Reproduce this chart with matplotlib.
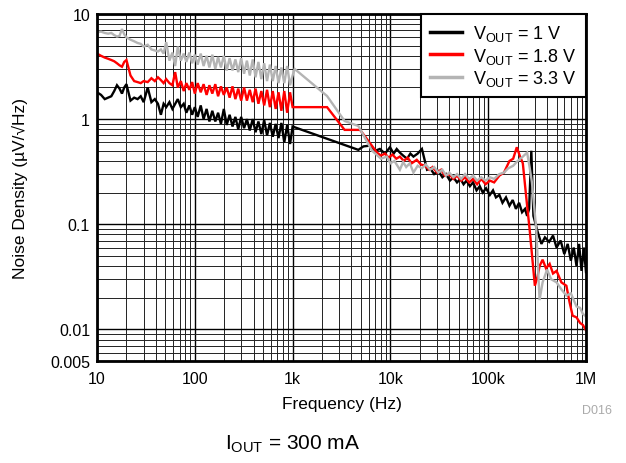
import matplotlib
matplotlib.use("Agg")
import matplotlib.pyplot as plt
from matplotlib.ticker import LogLocator, NullFormatter, FixedLocator, FixedFormatter
import numpy as np

plt.rcParams['font.family'] = ['Liberation Sans', 'DejaVu Sans']
plt.rcParams['mathtext.fontset'] = 'custom'
plt.rcParams['mathtext.rm'] = 'Liberation Sans'
plt.rcParams['mathtext.it'] = 'Liberation Sans'

# ---- data (frequency in Hz, noise density in uV/rtHz) ----
f_low = [10, 11, 12, 13, 14, 15, 16, 17, 18, 19, 20, 22, 24, 26, 28, 30, 33, 36, 39, 42,
         45, 48, 51, 55, 59, 63, 67, 72, 77, 82, 88, 94, 100, 107, 115, 123, 132, 141, 151,
         162, 173, 185, 198, 212, 227, 243, 260, 278, 298, 319, 341, 365, 391, 418, 447,
         479, 512, 548, 586, 627, 671, 718, 768, 822, 880, 942, 1000]

v1_low = [1.80, 1.70, 1.55, 1.60, 1.65, 1.85, 2.10, 1.95, 1.75, 2.00, 2.15, 1.50, 1.60, 1.55,
          1.65, 1.45, 2.00, 1.45, 1.55, 1.40, 1.10, 1.40, 1.30, 1.45, 1.25, 1.40, 1.55, 1.30,
          1.40, 1.15, 1.35, 1.10, 1.30, 1.05, 1.35, 1.00, 1.25, 0.95, 1.20, 0.95, 1.15, 0.90,
          1.25, 0.88, 1.10, 0.85, 1.05, 0.80, 1.05, 0.82, 1.00, 0.78, 1.00, 0.75, 0.95, 0.72,
          0.98, 0.70, 0.92, 0.68, 0.90, 0.66, 0.92, 0.60, 0.88, 0.58, 0.85]

v18_low = [4.20, 4.00, 3.85, 3.75, 3.65, 3.55, 3.40, 3.25, 3.15, 3.50, 3.65, 2.60, 2.30, 2.25,
           2.20, 2.30, 2.25, 2.45, 2.30, 2.50, 2.35, 2.20, 2.40, 2.20, 2.10, 2.80, 2.00, 2.30,
           1.85, 2.20, 1.90, 2.25, 1.75, 2.20, 1.80, 2.15, 1.70, 2.10, 1.75, 2.15, 1.65, 2.05,
           1.70, 2.00, 1.60, 2.05, 1.55, 1.95, 1.50, 2.00, 1.50, 1.90, 1.45, 1.95, 1.40, 1.85,
           1.35, 1.90, 1.30, 1.85, 1.25, 1.80, 1.20, 1.85, 1.15, 1.80, 1.30]

v33_low = [6.7, 6.8, 6.6, 6.5, 6.6, 6.3, 6.1, 6.2, 7.2, 6.4, 6.0, 5.7, 5.5, 5.3, 5.2, 4.9,
           5.1, 4.6, 4.5, 4.4, 4.6, 4.2, 5.4, 3.6, 4.3, 3.2, 4.9, 3.6, 4.2, 3.5, 4.3, 3.4, 4.1,
           3.3, 4.2, 3.2, 4.0, 3.1, 4.1, 3.0, 3.9, 3.1, 4.0, 2.9, 3.8, 2.9, 3.7, 2.8, 3.8, 2.7,
           3.6, 2.6, 3.7, 2.5, 3.5, 2.4, 3.4, 2.3, 3.3, 2.3, 3.2, 2.2, 3.1, 2.2, 3.2, 2.1, 2.6]

f1_high = [4700, 5300, 6200, 7000, 7800, 8800, 9900, 10800, 11600, 12500, 13500, 14800, 16000,
           17200, 19000, 21000, 23700, 25500, 28000, 31000, 34000, 37000, 40600, 44000, 48000,
           52000, 56000, 60000, 65000, 70000, 76000, 82000, 88000, 95000, 104000, 112000,
           120000, 130000, 140000, 152000, 165000, 178000, 192000, 207000, 222000, 238000,
           250000, 262000, 276000, 290000, 320000, 350000, 380000, 420000, 460000, 500000,
           550000, 600000, 650000, 700000, 750000, 800000, 850000, 900000, 950000, 1000000]
v1_high = [0.51, 0.55, 0.56, 0.50, 0.52, 0.47, 0.54, 0.47, 0.52, 0.48, 0.45, 0.42, 0.47, 0.44,
           0.47, 0.52, 0.33, 0.34, 0.30, 0.32, 0.28, 0.30, 0.26, 0.28, 0.25, 0.27, 0.24, 0.26,
           0.23, 0.25, 0.21, 0.23, 0.20, 0.22, 0.19, 0.21, 0.18, 0.19, 0.16, 0.18, 0.15, 0.17,
           0.14, 0.16, 0.13, 0.14, 0.12, 0.14, 0.50, 0.12, 0.085, 0.065, 0.075, 0.068, 0.078,
           0.060, 0.070, 0.052, 0.065, 0.045, 0.060, 0.040, 0.065, 0.036, 0.060, 0.035]

f18_high = [1050, 2250, 3400, 4900, 7300, 8000, 8800, 9600, 10500, 11500, 12500, 13700, 15000,
            16500, 18600, 20500, 22500, 25000, 27000, 30000, 33000, 36000, 40000, 44000, 48000,
            53000, 58000, 64000, 70000, 77000, 85000, 94000, 104000, 115000, 130000, 145000,
            165000, 180000, 196000, 210000, 226000, 245000, 265000, 300000, 320000, 335000,
            360000, 390000, 425000, 460000, 500000, 560000, 630000, 680000, 730000, 800000,
            870000, 930000, 1000000]
v18_high = [1.30, 1.30, 0.79, 0.79, 0.48, 0.45, 0.47, 0.43, 0.46, 0.42, 0.44, 0.40, 0.43, 0.38,
            0.41, 0.37, 0.36, 0.33, 0.35, 0.31, 0.33, 0.29, 0.30, 0.27, 0.29, 0.26, 0.28, 0.25,
            0.27, 0.24, 0.27, 0.24, 0.26, 0.25, 0.29, 0.31, 0.40, 0.42, 0.54, 0.45, 0.38, 0.18,
            0.09, 0.026, 0.032, 0.040, 0.046, 0.038, 0.042, 0.034, 0.036, 0.028, 0.026, 0.018,
            0.0135, 0.013, 0.0115, 0.011, 0.0098]

f33_high = [1050, 2250, 3400, 4700, 6500, 7200, 8000, 9200, 10000, 11000, 12500, 13500, 14500,
            15800, 17200, 19000, 21000, 23000, 25500, 28000, 31000, 34000, 37000, 40000, 44000,
            48000, 53000, 58000, 64000, 70000, 77000, 85000, 94000, 104000, 115000, 130000,
            145000, 160000, 180000, 200000, 226000, 250000, 265000, 280000, 310000, 335000,
            360000, 400000, 440000, 500000, 560000, 630000, 700000, 800000, 870000, 930000,
            1000000]
v33_high = [3.0, 1.66, 0.96, 0.86, 0.50, 0.46, 0.42, 0.44, 0.38, 0.40, 0.33, 0.39, 0.35, 0.38,
            0.31, 0.36, 0.34, 0.37, 0.33, 0.35, 0.31, 0.33, 0.29, 0.31, 0.28, 0.30, 0.27, 0.30,
            0.27, 0.29, 0.26, 0.28, 0.26, 0.28, 0.27, 0.30, 0.31, 0.34, 0.36, 0.40, 0.44, 0.48,
            0.35, 0.25, 0.09, 0.019, 0.028, 0.037, 0.030, 0.028, 0.024, 0.021, 0.022, 0.0165,
            0.016, 0.014, 0.0133]

labels = [r'V$_{\mathrm{OUT}}$ = 1 V', r'V$_{\mathrm{OUT}}$ = 1.8 V', r'V$_{\mathrm{OUT}}$ = 3.3 V']
colors = ['#000000', '#ff0000', '#b4b4b4']

x_ticks = [10, 100, 1000, 10000, 100000, 1000000]
x_ticklabels = ['10', '100', '1k', '10k', '100k', '1M']
y_ticks = [0.005, 0.01, 0.1, 1, 10]
y_ticklabels = ['0.005', '0.01', '0.1', '1', '10']

fig = plt.figure(figsize=(6.26, 4.64), dpi=100)
ax = fig.add_axes([97/626, 1-362/464, (586-97)/626, (362-15)/464])

series = [
    (f_low + f1_high, v1_low + v1_high),
    (f_low + f18_high, v18_low + v18_high),
    (f_low + f33_high, v33_low + v33_high),
]
for (f, v), c, lab in zip(series, colors, labels):
    ax.plot(f, v, color=c, lw=1.7, label=lab, solid_joinstyle='miter')

ax.set_xscale('log')
ax.set_yscale('log')
ax.set_xlim(10, 1e6)
ax.set_ylim(0.005, 10)

ax.xaxis.set_major_locator(FixedLocator(x_ticks))
ax.xaxis.set_major_formatter(FixedFormatter(x_ticklabels))
ax.yaxis.set_major_locator(FixedLocator(y_ticks))
ax.yaxis.set_major_formatter(FixedFormatter(y_ticklabels))
ax.xaxis.set_minor_locator(LogLocator(base=10, subs=np.arange(2, 10), numticks=20))
ax.yaxis.set_minor_locator(LogLocator(base=10, subs=np.arange(2, 10), numticks=20))
ax.xaxis.set_minor_formatter(NullFormatter())
ax.yaxis.set_minor_formatter(NullFormatter())

ax.grid(True, which='major', color='#000000', lw=1.0)
ax.grid(True, which='minor', color='#222222', lw=0.7)
ax.set_axisbelow(True)
ax.tick_params(which='both', length=0, labelsize=11.5)
ax.tick_params(axis='x', pad=7)
ax.tick_params(axis='y', pad=5)
for s in ax.spines.values():
    s.set_linewidth(2.0)
    s.set_color('black')

ax.set_xlabel('Frequency (Hz)', fontsize=12.5)
ax.set_ylabel('Noise Density (µV/√Hz)', fontsize=12.5)
ax.xaxis.set_label_coords(0.5, -0.10)
ax.yaxis.set_label_coords(-0.142, 0.5)

leg = ax.legend(loc='upper right', fontsize=13, frameon=True, fancybox=False,
                borderaxespad=0, handlelength=1.8, handletextpad=0.6,
                labelspacing=0.15, borderpad=0.5)
leg.get_frame().set_edgecolor('black')
leg.get_frame().set_linewidth(1.5)
leg.get_frame().set_alpha(1)
for line in leg.get_lines():
    line.set_linewidth(2.5)

fig.text(612/626, 1-411/464, 'D016', color='#aaaaaa', fontsize=9, ha='right', va='center')
fig.text(293/626, 1-444/464, r'I$_{\mathrm{OUT}}$ = 300 mA', fontsize=15, ha='center', va='center')

fig.savefig('out.png', dpi=100)
